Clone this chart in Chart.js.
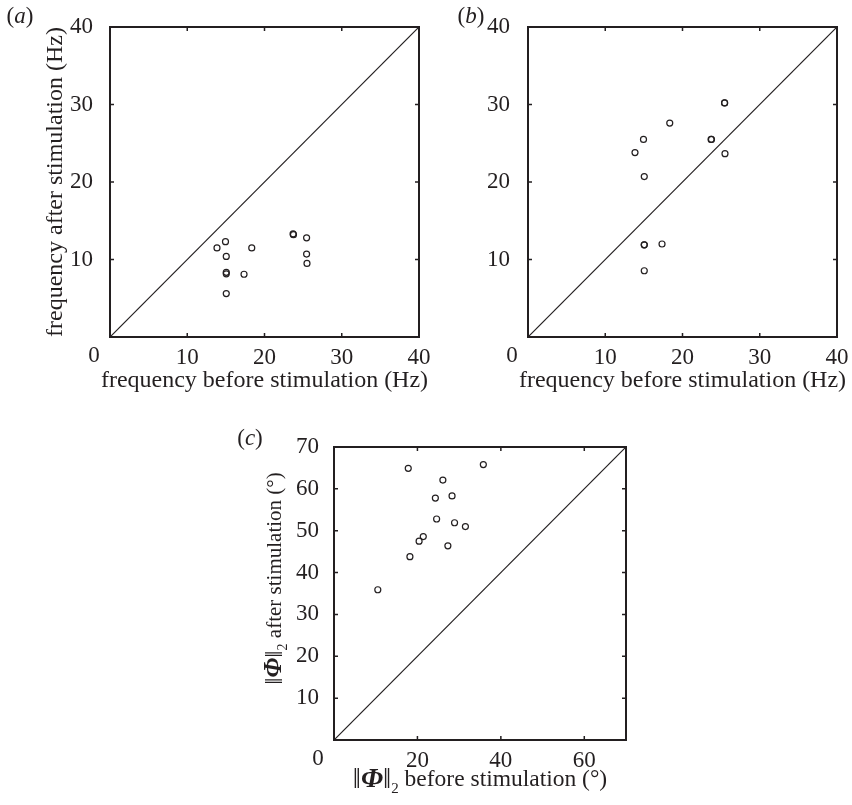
<!DOCTYPE html>
<html>
<head>
<meta charset="utf-8">
<script src="https://cdn.jsdelivr.net/npm/chart.js@4.4.0/dist/chart.umd.min.js"></script>
<style>
  body { margin: 0; background: #fff; }
  .panel { position: absolute; }
</style>
</head>
<body>
<div class="panel" style="left:0;top:0"><canvas id="chartA" width="440" height="400"></canvas></div>
<div class="panel" style="left:426px;top:0"><canvas id="chartB" width="426" height="400"></canvas></div>
<div class="panel" style="left:200px;top:400px"><canvas id="chartC" width="440" height="405"></canvas></div>
<script>
// oscillation frequency (Hz) per subject, before and after stimulation
const freqBefore = [13.85, 14.95, 15.05, 15.05, 15.05, 15.05, 17.35, 18.35, 23.7, 23.75, 25.45, 25.45, 25.5];
const freqAfterA = [11.5, 12.3, 10.4, 8.35, 8.15, 5.6, 8.1, 11.5, 13.3, 13.2, 12.8, 10.7, 9.5];
const freqAfterB = [23.8, 25.5, 20.7, 11.9, 11.9, 8.55, 12.0, 27.6, 25.5, 25.5, 30.2, 30.2, 23.65];

// phase spread ||Phi||_2 (degrees)
const phiBefore = [17.8, 35.8, 26.1, 24.3, 28.3, 24.6, 28.9, 31.5, 21.4, 20.4, 27.3, 18.2, 10.5];
const phiAfter = [64.9, 65.8, 62.1, 57.8, 58.3, 52.8, 51.9, 51.0, 48.6, 47.5, 46.4, 43.8, 35.9];

const freqTicks = [0, 10, 20, 30, 40];
const phiTicksX = [0, 20, 40, 60];
const phiTicksY = [0, 10, 20, 30, 40, 50, 60, 70];
const freqRange = [0, 40];
const phiRange = [0, 70];

const SERIF = "'Liberation Serif', 'DejaVu Serif', serif";
const INK = '#231f20';

function pairs(xs, ys) {
  return xs.map((x, i) => ({ x: x, y: ys[i] }));
}

// text made of runs in different fonts, centred on (cx, cy)
function drawRuns(ctx, runs, cx, cy, rotate) {
  ctx.save();
  ctx.translate(cx, cy);
  if (rotate) ctx.rotate(-Math.PI / 2);
  ctx.fillStyle = INK;
  ctx.textBaseline = 'middle';
  ctx.textAlign = 'left';
  let total = 0;
  runs.forEach(r => { ctx.font = r.font; r.w = ctx.measureText(r.t).width; total += r.w; });
  let x = -total / 2;
  runs.forEach(r => {
    ctx.font = r.font;
    ctx.fillText(r.t, x, r.dy || 0);
    x += r.w;
  });
  ctx.restore();
}

function font(size, style) {
  return (style ? style + ' ' : '') + size + 'px ' + SERIF;
}

function plain(t, size) { return [{ t: t, font: font(size) }]; }

// ||Phi||_2 followed by the rest of the axis title
function normRuns(rest, size) {
  const k = size / 23;
  return [
    { t: '\u2016', font: font(Math.round(28 * k)) },
    { t: '\u03A6', font: font(Math.round(27 * k), 'italic bold') },
    { t: '\u2016', font: font(Math.round(28 * k)) },
    { t: '2', font: font(Math.round(15 * k)), dy: 9 * k },
    { t: rest, font: font(size) }
  ];
}

// box, inward ticks, corner zero, titles and panel letter
const framePlugin = {
  id: 'frame',
  afterDraw(chart, args, opts) {
    const ctx = chart.ctx;
    const a = chart.chartArea;
    const xs = chart.scales.x, ys = chart.scales.y;
    ctx.save();
    ctx.strokeStyle = INK;
    ctx.lineWidth = 2;
    ctx.strokeRect(a.left, a.top, a.right - a.left, a.bottom - a.top);
    ctx.lineWidth = 1.5;
    ctx.beginPath();
    xs.ticks.forEach(t => {
      const px = xs.getPixelForValue(t.value);
      ctx.moveTo(px, a.bottom); ctx.lineTo(px, a.bottom - 4);
      ctx.moveTo(px, a.top); ctx.lineTo(px, a.top + 4);
    });
    ys.ticks.forEach(t => {
      const py = ys.getPixelForValue(t.value);
      ctx.moveTo(a.left, py); ctx.lineTo(a.left + 4, py);
      ctx.moveTo(a.right, py); ctx.lineTo(a.right - 4, py);
    });
    ctx.stroke();
    ctx.restore();

    drawRuns(ctx, plain('0', 23), a.left - 16, a.bottom + 19, false);
    const cx = (a.left + a.right) / 2, cy = (a.top + a.bottom) / 2;
    if (opts.xTitle) drawRuns(ctx, opts.xTitle, cx + (opts.xShift || 0), a.bottom + opts.xGap, false);
    if (opts.yTitle) drawRuns(ctx, opts.yTitle, a.left - opts.yGap, cy + (opts.yShift || 0), true);
    drawRuns(ctx, [{ t: '(', font: font(23) }, { t: opts.letter, font: font(23, 'italic') }, { t: ')', font: font(23) }],
      opts.letterX, opts.letterY, false);
  }
};

function makeChart(id, cfg) {
  const tickFont = { family: SERIF, size: 23 };
  return new Chart(document.getElementById(id), {
    type: 'scatter',
    data: {
      datasets: [
        {
          type: 'line',
          data: pairs(cfg.range, cfg.range),
          borderColor: INK,
          borderWidth: 1.2,
          pointRadius: 0,
          fill: false
        },
        {
          data: pairs(cfg.xs, cfg.ys),
          pointStyle: 'circle',
          pointRadius: 3,
          borderWidth: 1.2,
          borderColor: INK,
          backgroundColor: 'rgba(0,0,0,0)'
        }
      ]
    },
    options: {
      responsive: false,
      animation: false,
      layout: { padding: cfg.padding },
      plugins: {
        legend: { display: false },
        tooltip: { enabled: false },
        frame: cfg.frame
      },
      scales: {
        x: {
          type: 'linear',
          min: cfg.range[0], max: cfg.range[1],
          afterBuildTicks: s => { s.ticks = cfg.xTicks.map(v => ({ value: v })); },
          afterFit: s => { s.height = cfg.xHeight; },
          ticks: {
            autoSkip: false, maxRotation: 0, padding: -1,
            font: tickFont, color: INK,
            callback: v => (v === 0 ? '' : v)
          },
          grid: { display: false },
          border: { display: false }
        },
        y: {
          type: 'linear',
          min: cfg.range[0], max: cfg.range[1],
          afterBuildTicks: s => { s.ticks = cfg.yTicks.map(v => ({ value: v })); },
          afterFit: s => { s.width = cfg.yWidth; },
          ticks: {
            autoSkip: false, padding: cfg.yPad,
            font: tickFont, color: INK,
            callback: v => (v === 0 ? '' : v)
          },
          grid: { display: false },
          border: { display: false }
        }
      }
    },
    plugins: [framePlugin]
  });
}

makeChart('chartA', {
  xs: freqBefore, ys: freqAfterA, range: freqRange,
  xTicks: freqTicks, yTicks: freqTicks,
  padding: { top: 27, right: 21, left: 0, bottom: 0 },
  xHeight: 63, yWidth: 110, yPad: 9,
  frame: {
    letter: 'a', letterX: 20, letterY: 17,
    xTitle: plain('frequency before stimulation (Hz)', 24), xGap: 44,
    yTitle: plain('frequency after stimulation (Hz)', 24), yGap: 54
  }
});

makeChart('chartB', {
  xs: freqBefore, ys: freqAfterB, range: freqRange,
  xTicks: freqTicks, yTicks: freqTicks,
  padding: { top: 27, right: 15, left: 0, bottom: 0 },
  xHeight: 63, yWidth: 102, yPad: 10,
  frame: {
    letter: 'b', letterX: 45, letterY: 17,
    xTitle: plain('frequency before stimulation (Hz)', 24), xGap: 44
  }
});

makeChart('chartC', {
  xs: phiBefore, ys: phiAfter, range: phiRange,
  xTicks: phiTicksX, yTicks: phiTicksY,
  padding: { top: 47, right: 14, left: 0, bottom: 0 },
  xHeight: 65, yWidth: 134, yPad: 7,
  frame: {
    letter: 'c', letterX: 50, letterY: 39,
    xTitle: normRuns(' before stimulation (\u00B0)', 23.5), xGap: 40,
    yTitle: normRuns(' after stimulation (\u00B0)', 21), yGap: 59, yShift: -15
  }
});
</script>
</body>
</html>
